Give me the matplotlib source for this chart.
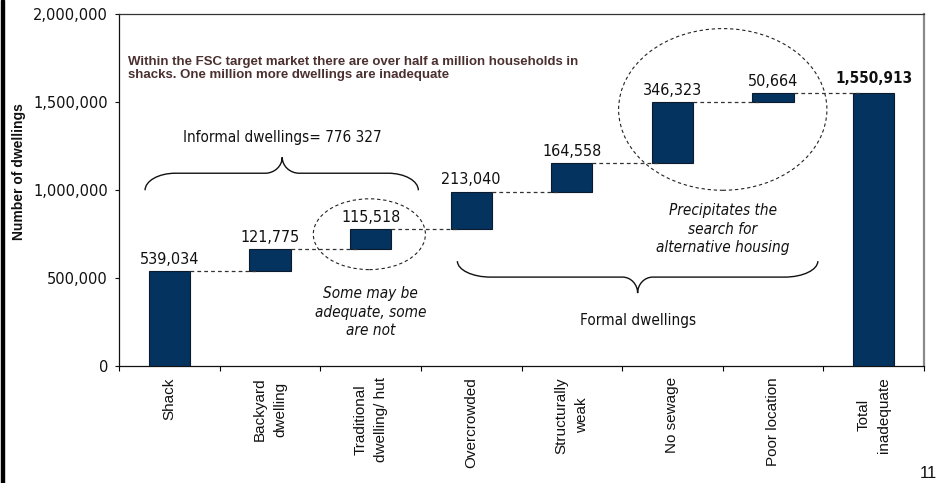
import matplotlib
matplotlib.use("Agg")
import matplotlib.pyplot as plt
from matplotlib import font_manager as fm
from matplotlib.patches import Ellipse, PathPatch, Rectangle
from matplotlib.path import Path
from matplotlib.ticker import FuncFormatter, FixedLocator

# ---- data -------------------------------------------------------------
categories = ["Shack", "Backyard\ndwelling", "Traditional\ndwelling/ hut",
              "Overcrowded", "Structurally\nweak", "No sewage",
              "Poor location", "Total\ninadequate"]
increments = [539034, 121775, 115518, 213040, 164558, 346323, 50664]
total_value = 1550913
value_labels = ["539,034", "121,775", "115,518", "213,040", "164,558",
                "346,323", "50,664"]
total_label = "1,550,913"
y_ticks = [0, 500000, 1000000, 1500000, 2000000]

title_text = ("Within the FSC target market there are over half a million households in\n"
              "shacks. One million more dwellings are inadequate")
informal_text = "Informal dwellings= 776 327"
formal_text = "Formal dwellings"
note_informal = "Some may be\nadequate, some\nare not"
note_formal = "Precipitates the\nsearch for\nalternative housing"

# ---- styling -----------------------------------------------------------
BAR_COLOR = "#04335f"
BAR_EDGE = "#0b1a2c"
BAR_WIDTH = 0.41

_cond = any(f.name == "DejaVu Sans" and ("ondensed" in f.fname or "condensed" in str(f.stretch))
            for f in fm.fontManager.ttflist)
if _cond:
    NUM_FONT = dict(family="DejaVu Sans", stretch="condensed")
    NUM_SIZE = 11
else:
    NUM_FONT = dict(family="DejaVu Sans")
    NUM_SIZE = 10
LABEL_SIZE = NUM_SIZE + 0.5

fig = plt.figure(figsize=(9.41, 4.83), dpi=100)
ax = fig.add_axes([0.12646, 0.24327, 0.85548, 0.72774])

# ---- waterfall bars ----------------------------------------------------
bottoms = []
running = 0
for v in increments:
    bottoms.append(running)
    running += v
xs = list(range(len(increments)))
ax.bar(xs, increments, bottom=bottoms, width=BAR_WIDTH, color=BAR_COLOR,
       edgecolor=BAR_EDGE, linewidth=0.8, zorder=3)
ax.bar([len(increments)], [total_value], width=BAR_WIDTH, color=BAR_COLOR,
       edgecolor=BAR_EDGE, linewidth=0.8, zorder=3)

tops = [b + v for b, v in zip(bottoms, increments)]

# dashed connectors between consecutive bars
for i, top in enumerate(tops):
    x_start = i + BAR_WIDTH / 2
    x_end = i + 1 - BAR_WIDTH / 2 + 0.09
    ax.plot([x_start, x_end], [top, top], color="#333333", lw=0.9,
            dashes=(3, 2.5), zorder=4)

# value labels
for i, (top, lab) in enumerate(zip(tops, value_labels)):
    ax.annotate(lab, (i, top), xytext=(0, 3), textcoords="offset points",
                ha="center", va="bottom", fontsize=LABEL_SIZE, color="#111111",
                **NUM_FONT)
ax.annotate(total_label, (len(increments), total_value), xytext=(0, 5),
            textcoords="offset points", ha="center", va="bottom",
            fontsize=NUM_SIZE, fontweight="bold", color="#111111", **NUM_FONT)

# ---- axes --------------------------------------------------------------
ax.set_xlim(-0.5, len(categories) - 0.5)
ax.set_ylim(0, 2000000)
ax.set_yticks(y_ticks)
ax.yaxis.set_major_formatter(FuncFormatter(lambda v, p: f"{v:,.0f}"))
for lab in ax.get_yticklabels():
    lab.set_fontfamily("DejaVu Sans")
ax.tick_params(axis="y", direction="out", length=3, width=0.8, pad=5,
               labelsize=10.5, colors="#111111")

ax.set_xticks(range(len(categories)))
ax.set_xticklabels(categories, rotation=90, ha="center", va="top",
                   multialignment="center", fontsize=11,
                   fontfamily="Liberation Sans", linespacing=1.6)
ax.tick_params(axis="x", which="major", length=0, pad=8.5, colors="#111111")
ax.xaxis.set_minor_locator(FixedLocator([i - 0.5 for i in range(len(categories) + 1)]))
ax.tick_params(axis="x", which="minor", direction="out", length=3.5, width=0.8)

for side in ("left", "bottom"):
    ax.spines[side].set_color("#111111")
    ax.spines[side].set_linewidth(0.9)
ax.spines["top"].set_color("#333333")
ax.spines["top"].set_linewidth(0.9)
ax.spines["right"].set_color("#8a8a8a")
ax.spines["right"].set_linewidth(1.6)

fig.text(19 / 941, 1 - 172 / 483, "Number of dwellings", rotation=90,
         ha="center", va="center", fontsize=10, fontweight="bold",
         family="Liberation Sans", color="#111111")

# ---- annotations -------------------------------------------------------
ax.text(-0.41, 1.69e6, title_text, ha="left", va="center", fontsize=9.5,
        fontweight="bold", family="Liberation Sans", color="#4b3030",
        linespacing=1.2)

ax.text(1.122, 1.298e6, informal_text, ha="center", va="center",
        fontsize=NUM_SIZE, color="#111111", **NUM_FONT)
ax.text(4.654, 2.585e5, formal_text, ha="center", va="center",
        fontsize=NUM_SIZE, color="#111111", **NUM_FONT)
ax.text(2.0, 3.04e5, note_informal, ha="center", va="center",
        fontsize=NUM_SIZE, style="italic", color="#111111", linespacing=1.3,
        **NUM_FONT)
ax.text(5.5, 7.756e5, note_formal, ha="center", va="center",
        fontsize=NUM_SIZE, style="italic", color="#111111", linespacing=1.3,
        **NUM_FONT)


def brace(ax, x0, x1, xc, y_end, y_mid, y_tip, rx, rt):
    """Curly brace from x0 to x1, with its point at xc."""
    k = 0.55
    verts = [
        (x0, y_end),
        (x0, y_end + k * (y_mid - y_end)), (x0 + (1 - k) * rx, y_mid), (x0 + rx, y_mid),
        (xc - rt, y_mid),
        (xc - (1 - k) * rt, y_mid), (xc, y_mid + (1 - k) * (y_tip - y_mid)), (xc, y_tip),
        (xc, y_mid + (1 - k) * (y_tip - y_mid)), (xc + (1 - k) * rt, y_mid), (xc + rt, y_mid),
        (x1 - rx, y_mid),
        (x1 - (1 - k) * rx, y_mid), (x1, y_end + k * (y_mid - y_end)), (x1, y_end),
    ]
    codes = ([Path.MOVETO] + [Path.CURVE4] * 3 + [Path.LINETO] + [Path.CURVE4] * 6
             + [Path.LINETO] + [Path.CURVE4] * 3)
    ax.add_patch(PathPatch(Path(verts, codes), fill=False, lw=1.0,
                           edgecolor="#111111", zorder=2))


brace(ax, -0.241, 2.475, 1.122, 0.997e6, 1.094e6, 1.185e6, 0.30, 0.17)
brace(ax, 2.863, 6.445, 4.654, 0.594e6, 0.503e6, 0.412e6, 0.33, 0.15)

ax.add_patch(Ellipse((1.988, 7.47e5), 1.114, 4.03e5, fill=False,
                     edgecolor="#222222", lw=0.8, linestyle=(0, (3, 2.5)), zorder=2))
ax.add_patch(Ellipse((5.5, 1.457e6), 2.07, 9.2e5, fill=False,
                     edgecolor="#222222", lw=0.8, linestyle=(0, (3, 2.5)), zorder=2))

# page furniture
fig.patches.append(Rectangle((1 / 941, 0), 3 / 941, 1, transform=fig.transFigure,
                             color="black", zorder=10))
fig.text(937 / 941, 1 - 474 / 483, "11", ha="right", va="center", fontsize=12,
         family="Liberation Sans", color="#111111")

fig.savefig("out.png", dpi=100)
